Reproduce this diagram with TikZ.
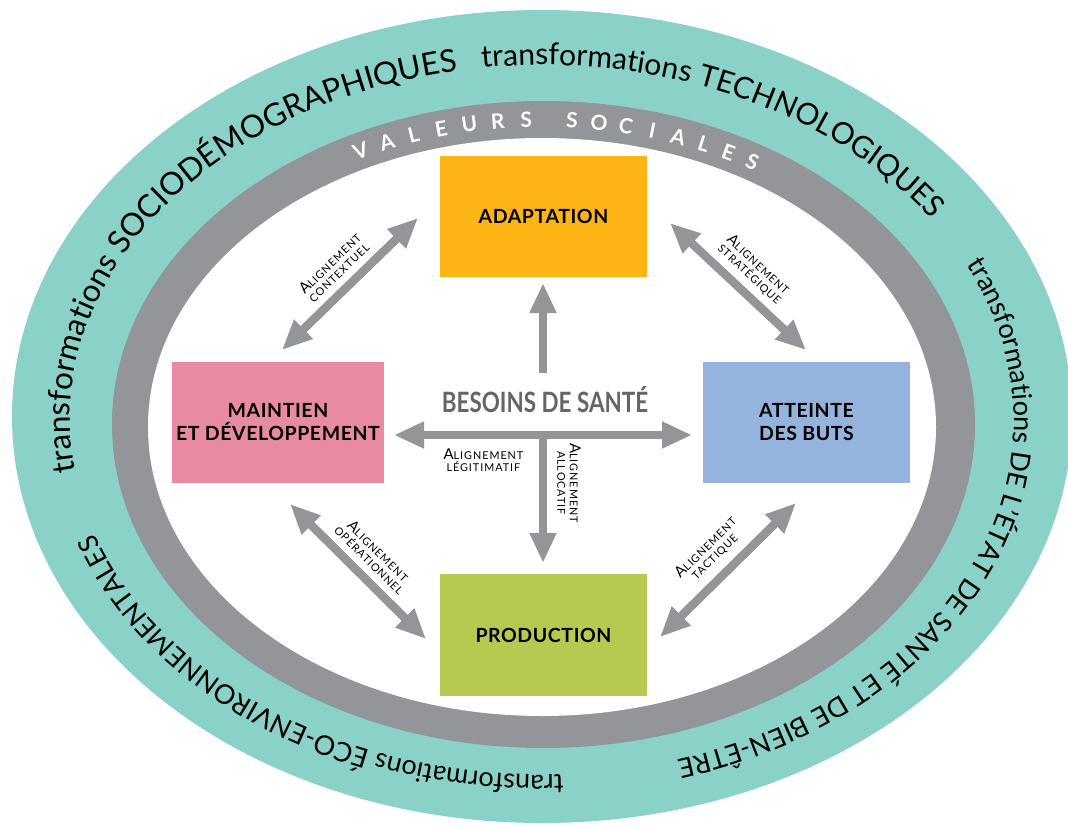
\documentclass[tikz,border=0pt]{standalone}
\usepackage{fontspec}
\setmainfont{Lato}
\newfontfamily\ringfont{Lato}
\newfontfamily\lblfont[LetterSpace=9]{Lato}
\newfontfamily\boxfont[LetterSpace=3]{Lato}
\usepackage{graphicx}
\usetikzlibrary{arrows.meta,decorations.text}
\definecolor{cTeal}{HTML}{8AD1C8}
\definecolor{cGray}{HTML}{939598}
\definecolor{cOrange}{HTML}{FDB515}
\definecolor{cPink}{HTML}{E88BA1}
\definecolor{cBlue}{HTML}{94B4DE}
\definecolor{cGreen}{HTML}{B8C952}
\definecolor{cDark}{HTML}{646567}
\newcommand{\aln}[1]{{\fontsize{15}{12.5}\selectfont A}LIGNEMENT\\#1}
\begin{document}
\begin{tikzpicture}[x=1pt,y=-1pt,
  box/.style={inner sep=0pt, minimum width=207pt, minimum height=121pt, align=center,
    font=\boxfont\bfseries\fontsize{19.5}{23}\selectfont, text=black},
  arr/.style={draw=cGray, line width=8.5pt, -{Triangle[width=25pt,length=30pt]}},
  darr/.style={draw=cGray, line width=8.5pt, {Triangle[width=25pt,length=30pt]}-{Triangle[width=25pt,length=30pt]}},
  lbl/.style={align=center, inner sep=0pt, font=\lblfont\fontsize{10.8}{12.5}\selectfont, text=black},
  ringtxt/.style 2 args={decorate, decoration={text along path, text align=left,
    text={|\ringfont\fontsize{#1}{#1}\selectfont|#2}}},
  valeur/.style={text=white, font=\bfseries\fontsize{21}{21}\selectfont, inner sep=0pt, anchor=base}
]
\useasboundingbox (0,0) rectangle (1068,827);
\clip (0,0) rectangle (1068,827);
\fill[white] (0,0) rectangle (1068,827);
% rings
\fill[cTeal] (542,416.5) ellipse[x radius=530, y radius=406.5];
\fill[cGray] (543.5,424.5) ellipse[x radius=431.5, y radius=323.5];
\fill[white] (542,427) ellipse[x radius=394, y radius=289];
% ring texts
\path[ringtxt={31.5}{transformations SOCIODÉMOGRAPHIQUES}] (542,420) ++(-188.4:472 and 355)
  arc[start angle=-188.4, end angle=-80, x radius=472, y radius=355];
\path[ringtxt={30}{transformations TECHNOLOGIQUES}] (542,420) ++(-97.3:472 and 355)
  arc[start angle=-97.3, end angle=-10, x radius=472, y radius=355];
\path[ringtxt={27}{transformations DE L’ÉTAT DE SANTÉ ET DE BIEN-ÊTRE}] (542,420) ++(-26:472 and 355)
  arc[start angle=-26, end angle=88, x radius=472, y radius=355];
\path[ringtxt={27}{transformations ÉCO-ENVIRONNEMENTALES}] (542,420) ++(87.4:472 and 355)
  arc[start angle=87.4, end angle=185, x radius=472, y radius=355];
% valeurs sociales
\foreach \ch [count=\i from 0] in {V,A,L,E,U,R,S} {
  \pgfmathsetmacro\a{-116.2+4.0*\i}
  \node[valeur, rotate={atan2(-299*cos(\a),-405*sin(\a))}] (v\i) at ({542+405*cos(\a)},{426+299*sin(\a)}) {\ch};
}
\foreach \ch [count=\i from 0] in {S,O,C,I,A,L,E,S} {
  \pgfmathsetmacro\a{-85.8+3.8*\i}
  \node[valeur, rotate={atan2(-299*cos(\a),-405*sin(\a))}] (s\i) at ({542+405*cos(\a)},{426+299*sin(\a)}) {\ch};
}
% boxes
\node[box, fill=cOrange] (adapt) at (543.5,216.5) {ADAPTATION};
\node[box, fill=cPink, minimum width=212pt] (maint) at (278,422.5) {MAINTIEN\\ET DÉVELOPPEMENT};
\node[box, fill=cBlue] (atteinte) at (806.5,422.5) {ATTEINTE\\DES BUTS};
\node[box, fill=cGreen, minimum height=122pt] (prod) at (543.5,635) {PRODUCTION};
\node[text=cDark, font=\bfseries\fontsize{28}{28}\selectfont, inner sep=0pt] (besoins) at (545,400) {\scalebox{0.8}[1]{BESOINS DE SANTÉ}};
% central arrows
\coordinate (upS) at (543,373);
\coordinate (upE) at (543,283);
\coordinate (hL) at (394,435);
\coordinate (hR) at (692,435);
\coordinate (hC) at (543,435);
\coordinate (vD) at (543,563);
\draw[arr] (upS) -- (upE);
\draw[darr] (hL) -- node[lbl, pos=0.30, below=9pt] (lleg) {\aln{LÉGITIMATIF}} (hR);
\draw[arr] (hC) -- node[lbl, sloped, pos=0.375, above=10pt] (lall) {\aln{ALLOCATIF}} (vD);
% diagonal arrows
\coordinate (c1) at (282,350);
\coordinate (c2) at (418,218);
\coordinate (s1) at (670,223);
\coordinate (s2) at (806,350);
\coordinate (o1) at (290,504);
\coordinate (o2) at (426,639);
\coordinate (t1) at (660,637);
\coordinate (t2) at (796,503);
\draw[darr] (c1) -- node[lbl, sloped, above=7pt] (lctx) {\aln{CONTEXTUEL}} (c2);
\draw[darr] (s1) -- node[lbl, sloped, above=7pt] (lstr) {\aln{STRATÉGIQUE}} (s2);
\draw[darr] (o1) -- node[lbl, sloped, above=7pt] (lope) {\aln{OPÉRATIONNEL}} (o2);
\draw[darr] (t1) -- node[lbl, sloped, above=9pt] (ltac) {\aln{TACTIQUE}} (t2);
\end{tikzpicture}
\end{document}
